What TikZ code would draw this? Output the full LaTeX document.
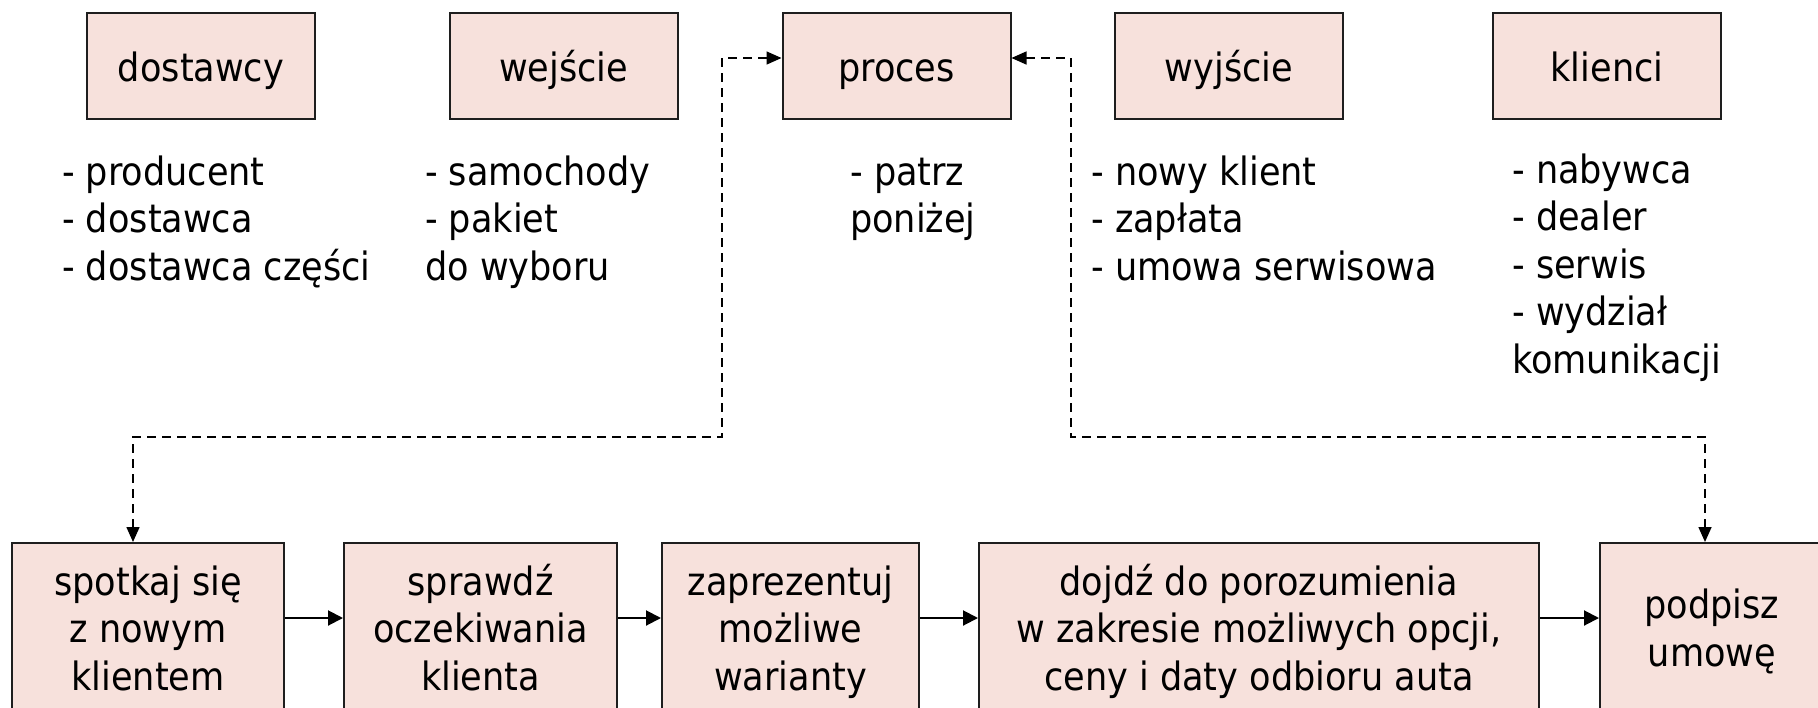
\documentclass[tikz,border=0pt]{standalone}
\usepackage{fontspec}
\setmainfont{DejaVu Sans Condensed}
\usetikzlibrary{arrows.meta}
\definecolor{boxfill}{RGB}{247,225,220}
\definecolor{boxline}{RGB}{30,30,30}
% fixed height of the first line and depth of the last line in the lower boxes
\newcommand{\firstrow}{\rule{0pt}{33.25pt}}
\newcommand{\lastrow}{\rule[-21.25pt]{0pt}{21.25pt}}
\begin{document}
\begin{tikzpicture}[x=1pt,y=-1pt,
  every node/.style={font=\fontsize{39}{47.5}\selectfont},
  topbox/.style={draw=boxline, line width=2pt, fill=boxfill,
    minimum width=228pt, minimum height=106pt,
    text height=35pt, text depth=4pt, inner sep=0pt},
  flowbox/.style={draw=boxline, line width=2pt, fill=boxfill,
    minimum height=187pt, align=center, inner sep=0pt},
  listtext/.style={anchor=north west, align=left, inner sep=0pt},
  flowarrow/.style={line width=2pt, -{Triangle[length=15pt,width=15pt]}},
  backlink/.style={line width=1.5pt, dash pattern=on 9pt off 6pt,
    {Triangle[length=15pt,width=13pt]}-{Triangle[length=15pt,width=13pt]}}
]
\clip (0,0) rectangle (1818,707);
\fill[white] (0,0) rectangle (1818,707);

% upper row: the five elements of the chain
\node[topbox] (sup)  at (201,66)   {dostawcy};
\node[topbox] (inp)  at (563.5,66) {wejście};
\node[topbox] (proc) at (896.5,66) {proces};
\node[topbox] (outp) at (1229,66)  {wyjście};
\node[topbox] (cust) at (1607,66)  {klienci};

% lists under the upper boxes
\node[listtext] (suplist)  at (62,152)   {\strut- producent\\- dostawca\\- dostawca części};
\node[listtext] (inplist)  at (425,152)  {\strut- samochody\\- pakiet\\do wyboru};
\node[listtext] (proclist) at (850,152)  {\strut- patrz\\poniżej};
\node[listtext] (outplist) at (1091,152) {\strut- nowy klient\\- zapłata\\- umowa serwisowa};
\node[listtext] (custlist) at (1512,150) {\strut- nabywca\\- dealer\\- serwis\\- wydział\\komunikacji};

% lower row: the sales process
\node[flowbox, minimum width=272pt] (meet)    at (148,636.5)   {\firstrow spotkaj się\\z nowym\\klientem\lastrow};
\node[flowbox, minimum width=273pt] (check)   at (480.5,636.5) {\firstrow sprawdź\\oczekiwania\\klienta\lastrow};
\node[flowbox, minimum width=257pt] (present) at (790.5,636.5) {\firstrow zaprezentuj\\możliwe\\warianty\lastrow};
\node[flowbox, minimum width=560pt] (agree)   at (1259,636.5)  {\firstrow dojdź do porozumienia\\w zakresie możliwych opcji,\\ceny i daty odbioru auta\lastrow};
\node[flowbox, minimum width=224pt] (sign)    at (1712,636.5)  {\firstrow podpisz\\umowę\lastrow};

\draw[flowarrow] ([yshift=18.5pt]meet.east)    -- ([yshift=18.5pt]check.west);
\draw[flowarrow] ([yshift=18.5pt]check.east)   -- ([yshift=18.5pt]present.west);
\draw[flowarrow] ([yshift=18.5pt]present.east) -- ([yshift=18.5pt]agree.west);
\draw[flowarrow] ([yshift=18.5pt]agree.east)   -- ([yshift=18.5pt]sign.west);

% dashed links between the process box and the lower row
\coordinate (lbend) at (722,437);
\coordinate (rbend) at (1071,437);
\draw[backlink] ([yshift=8pt]proc.west) -| (lbend) -| ([xshift=-15pt]meet.north);
\draw[backlink] ([yshift=8pt]proc.east) -| (rbend) -| ([xshift=-7pt]sign.north);
\end{tikzpicture}
\end{document}
